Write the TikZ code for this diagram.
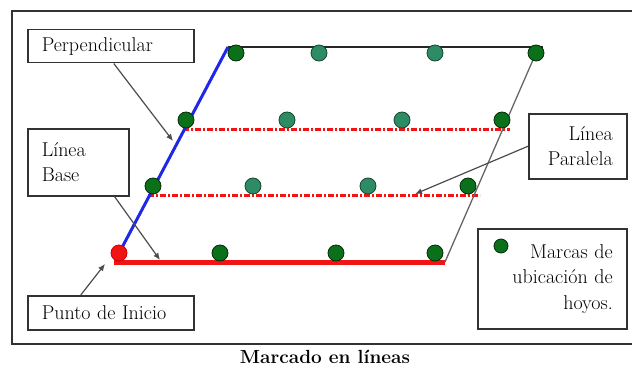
\documentclass[tikz,border=0pt]{standalone}
\usetikzlibrary{arrows.meta}
\definecolor{dkgreen}{RGB}{10,112,25}
\definecolor{tealgreen}{RGB}{45,140,100}
\definecolor{redline}{RGB}{240,20,20}
\definecolor{blueline}{RGB}{30,40,230}
\definecolor{framegray}{RGB}{50,50,50}
\begin{document}
\begin{tikzpicture}[x=1pt,y=-1pt,
  font=\rmfamily\fontsize{20}{25.5}\selectfont,
  box/.style={draw=framegray, line width=1.5pt, rectangle, inner xsep=14pt, inner ysep=0pt, anchor=north west},
  holedot/.style={circle, fill=dkgreen, draw=black!60!dkgreen, line width=0.8pt, minimum size=16pt, inner sep=0pt},
  tealdot/.style={holedot, fill=tealgreen, draw=black!50!tealgreen},
  startdot/.style={holedot, fill=redline, draw=red!80!black},
  callout/.style={draw=black!70, line width=1.2pt, -{Latex[length=7pt,width=6pt]}},
  dashrow/.style={draw=redline, line width=3pt, dash pattern=on 6pt off 2pt on 2pt off 2pt}
]
\useasboundingbox (0,0) rectangle (632,369);
% outer frame (right side beyond the picture)
\draw[framegray, line width=2pt] (640,11) -- (12,11) -- (12,344) -- (640,344);

% corner coordinates of the field
\coordinate (bl) at (114,262);
\coordinate (tl) at (228,47);
\coordinate (tr) at (543,47);
\coordinate (br) at (445,262);
\coordinate (slantTop) at (536,53);
\coordinate (r2a) at (183,129);
\coordinate (r2b) at (510,129);
\coordinate (r3a) at (148,195);
\coordinate (r3b) at (480,195);
\coordinate (blueStart) at (117,257);

% lines
\draw[black!85, line width=2pt] (tl) -- (tr);
\draw[dashrow] (r2a) -- (r2b);
\draw[dashrow] (r3a) -- (r3b);
\draw[redline, line width=5pt] (bl) -- (br);
\draw[black!60, line width=1.3pt] (slantTop) -- (br);
\draw[blueline, line width=3pt] (blueStart) -- (tl);

% marks
\node[holedot] (d11) at (236,53) {};
\node[tealdot] (d12) at (319,53) {};
\node[tealdot] (d13) at (435,53) {};
\node[holedot] (d14) at (536,53) {};
\node[holedot] (d21) at (186,120) {};
\node[tealdot] (d22) at (287,120) {};
\node[tealdot] (d23) at (402,120) {};
\node[holedot] (d24) at (502,120) {};
\node[holedot] (d31) at (153,186) {};
\node[tealdot] (d32) at (253,186) {};
\node[tealdot] (d33) at (368,186) {};
\node[holedot] (d34) at (468,186) {};
\node[startdot] (d41) at (119,253) {};
\node[holedot] (d42) at (220,253) {};
\node[holedot] (d43) at (336,253) {};
\node[holedot] (d44) at (435,253) {};

% label boxes
\node[box, text width=138pt, minimum height=33pt, align=left] (perp) at (27,29) {Perpendicular};
\node[box, text width=73pt, minimum height=67pt, align=left] (base) at (27,128) {Línea\\Base};
\node[box, text width=138pt, minimum height=34pt, align=left] (punto) at (27,295) {Punto de Inicio};
\node[box, text width=70pt, minimum height=65pt, align=right] (para) at (528,113) {Línea\\Paralela};
\node[box, text width=121pt, minimum height=100pt, align=right] (marcas) at (477,228) {Marcas de\\ubicación de\\hoyos.};
\node[holedot, minimum size=14pt] (legdot) at (501,246) {};

% callout arrows
\coordinate (perpTip) at (173,141);
\coordinate (baseTip) at (160,260);
\coordinate (puntoTip) at (105,264);
\coordinate (paraTip) at (415,194);
\draw[callout] ([xshift=3pt]perp.south) -- (perpTip);
\draw[callout] ([xshift=-15pt]base.south east) -- (baseTip);
\draw[callout] ([xshift=-30pt]punto.north) -- (puntoTip);
\draw[callout] (para.west) -- (paraTip);

% caption
\node[font=\bfseries\fontsize{19}{24}\selectfont, anchor=base] (cap) at (325,363) {Marcado en líneas};
\end{tikzpicture}
\end{document}
